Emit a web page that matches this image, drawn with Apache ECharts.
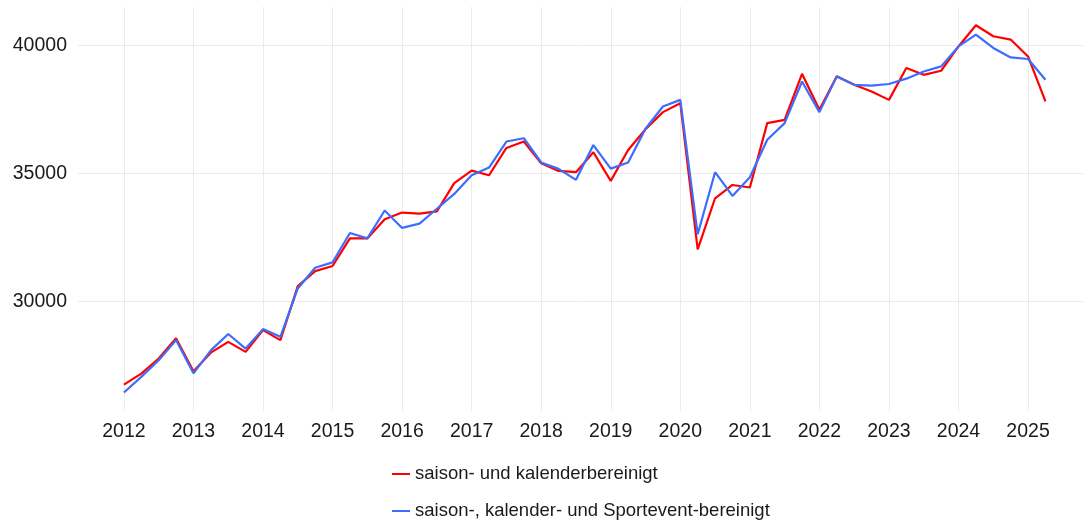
<!DOCTYPE html>
<html>
<head>
<meta charset="utf-8">
<script src="https://cdn.jsdelivr.net/npm/echarts@6/dist/echarts.min.js"></script>
<style>
  html, body { margin: 0; padding: 0; background: #fff; }
  #chart { width: 1083px; height: 527px; }
</style>
</head>
<body>
<div id="chart"></div>
<script>
// quarterly series, 2012 Q1 .. 2025 Q2
const startYear = 2012;
const seriesNames = ['saison- und kalenderbereinigt', 'saison-, kalender- und Sportevent-bereinigt'];
const kalender = [
  26740, 27170, 27760, 28550, 27260, 27990, 28410, 28020, 28870, 28480,
  30590, 31180, 31380, 32460, 32460, 33210, 33470, 33430, 33520, 34620,
  35110, 34930, 36000, 36250, 35400, 35100, 35050, 35830, 34710, 35920,
  36730, 37400, 37750, 32030, 34030, 34550, 34450, 36970, 37100, 38900,
  37490, 38800, 38470, 38210, 37880, 39130, 38860, 39020, 39970, 40800,
  40370, 40240, 39580, 37820
];
const sportevent = [
  26430, 27040, 27690, 28480, 27180, 28080, 28720, 28150, 28910, 28610,
  30500, 31310, 31520, 32670, 32460, 33550, 32870, 33040, 33620, 34200,
  34930, 35230, 36250, 36380, 35430, 35180, 34750, 36110, 35190, 35430,
  36750, 37620, 37880, 32620, 35050, 34120, 34850, 36320, 36970, 38600,
  37400, 38790, 38470, 38440, 38500, 38710, 38990, 39190, 39970, 40430,
  39910, 39540, 39480, 38670
];

function toPoints(values) {
  return values.map((v, i) => [startYear + i / 4, v]);
}

const chart = echarts.init(document.getElementById('chart'));
const font = '"Liberation Sans", Arial, sans-serif';
chart.setOption({
  animation: false,
  textStyle: { fontFamily: font },
  grid: { left: 78, right: 0, top: 7, bottom: 116 },
  xAxis: {
    type: 'value',
    min: 2011.34,
    max: 2025.79,
    splitNumber: 14,
    minInterval: 1,
    maxInterval: 1,
    axisLine: { show: false },
    axisTick: { show: false },
    axisLabel: {
      color: '#1a1a1a', fontSize: 19.5, margin: 11, fontFamily: font,
      showMinLabel: false, showMaxLabel: false,
      formatter: v => String(Math.round(v))
    },
    splitLine: { show: true, showMinLine: false, showMaxLine: false, lineStyle: { color: '#ebebeb', width: 1 } }
  },
  yAxis: {
    type: 'value',
    min: 25706,
    max: 41514,
    splitNumber: 3,
    minInterval: 5000,
    maxInterval: 5000,
    axisLine: { show: false },
    axisTick: { show: false },
    axisLabel: {
      color: '#1a1a1a', fontSize: 19.5, margin: 11, fontFamily: font,
      showMinLabel: false, showMaxLabel: false,
      formatter: v => String(Math.round(v))
    },
    splitLine: { show: true, showMinLine: false, showMaxLine: false, lineStyle: { color: '#ebebeb', width: 1 } }
  },
  legend: {
    orient: 'vertical',
    left: 392,
    top: 464,
    padding: 0,
    itemGap: 17,
    icon: 'rect',
    itemWidth: 18,
    itemHeight: 2,
    textStyle: { color: '#1a1a1a', fontSize: 18.5, lineHeight: 20, fontFamily: font },
    data: seriesNames
  },
  series: [
    {
      name: seriesNames[0],
      type: 'line',
      data: toPoints(kalender),
      showSymbol: false,
      color: '#ff0000',
      lineStyle: { width: 2.2, color: '#ff0000' }
    },
    {
      name: seriesNames[1],
      type: 'line',
      data: toPoints(sportevent),
      showSymbol: false,
      color: '#3d6dff',
      lineStyle: { width: 2.2, color: '#3d6dff' }
    }
  ]
});
</script>
</body>
</html>
